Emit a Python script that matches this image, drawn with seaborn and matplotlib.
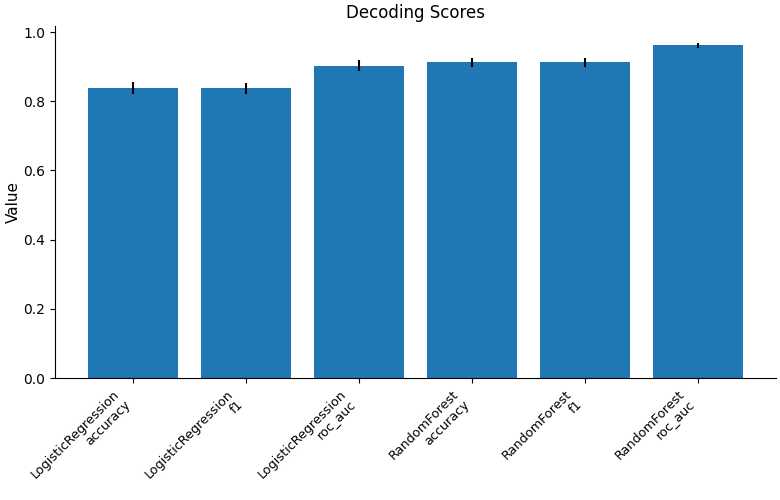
import pandas as pd
import matplotlib
matplotlib.use("Agg")
import matplotlib.pyplot as plt
import seaborn as sns

# Scores
modelos = ["LogisticRegression", "LogisticRegression", "LogisticRegression",
           "RandomForest", "RandomForest", "RandomForest"]
metricas = ["accuracy", "f1", "roc_auc", "accuracy", "f1", "roc_auc"]
medias = [0.838, 0.838, 0.902, 0.913, 0.913, 0.962]
desvios = [0.017, 0.016, 0.016, 0.013, 0.013, 0.007]

rotulos = [f"{m}\n{s}" for m, s in zip(modelos, metricas)]
df = pd.DataFrame({"label": rotulos, "Value": medias})

fig, ax = plt.subplots(figsize=(7.8, 5), dpi=100)
sns.barplot(data=df, x="label", y="Value", color="#1f77b4", saturation=1,
            width=0.8, errorbar=None, ax=ax)
ax.errorbar(x=range(len(medias)), y=medias, yerr=desvios, fmt="none",
            ecolor="black", elinewidth=1.5, capsize=0)

ax.set_xlim(-0.69, len(medias) - 1 + 0.69)
ax.set_title("Decoding Scores", fontsize=12)
ax.set_xlabel("")
ax.set_ylabel("Value", fontsize=11, labelpad=2)
plt.setp(ax.get_xticklabels(), rotation=45, ha="right", fontsize=9.2)
ax.spines["top"].set_visible(False)
ax.spines["right"].set_visible(False)
fig.subplots_adjust(left=0.0705, right=0.995, bottom=0.244, top=0.948)
plt.savefig("out.png")
plt.close()
